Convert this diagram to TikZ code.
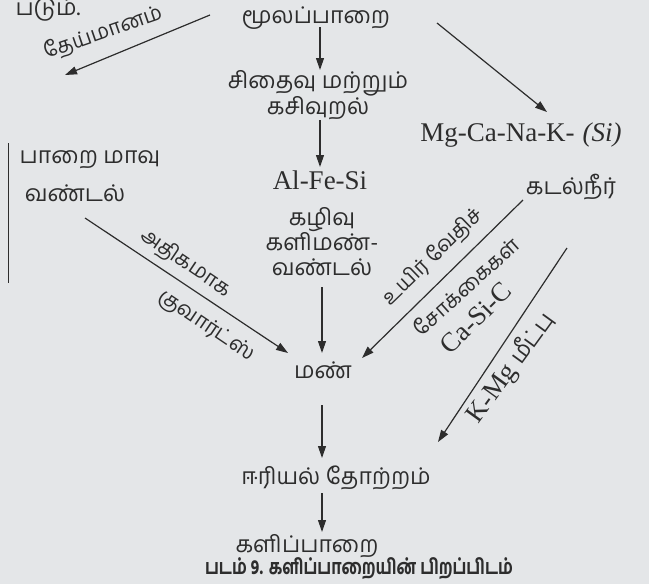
\documentclass[tikz,border=0pt]{standalone}
\usepackage{fontspec}
\setmainfont{Liberation Serif}
\newfontfamily\tamil[Script=Tamil]{Hind Madurai}
\newfontfamily\tamilbold[Script=Tamil]{Hind Madurai Bold}
\usetikzlibrary{arrows.meta}
\definecolor{bg}{RGB}{228,230,232}
\definecolor{ink}{RGB}{45,45,45}
\begin{document}
\begin{tikzpicture}[x=1pt,y=-1pt,
  tam/.style={font=\tamil\fontsize{23}{25}\selectfont, text=ink, inner sep=0pt, align=center},
  tams/.style={font=\tamil\fontsize{21}{24}\selectfont, text=ink, inner sep=0pt},
  capt/.style={font=\tamilbold\fontsize{16}{20}\selectfont, text=ink, inner sep=0pt, yscale=1.3},
  lat/.style={font=\fontsize{27}{30}\selectfont, text=ink, inner sep=0pt},
  arr/.style={draw=ink, line width=1.2pt, -{Triangle[length=12pt,width=8pt]}},
  ln/.style={draw=ink, line width=0.9pt}]
\fill[bg] (0,0) rectangle (649,584);
\useasboundingbox (0,0) rectangle (649,584);
% texts
\node[tam] (padum) at (48,10) {படும்.};
\node[tams, rotate=19] (theym) at (103,33) {தேய்மானம்};
\node[tam] (mula) at (316,18) {மூலப்பாறை};
\node[tam] (sith) at (318,95) {சிதைவு மற்றும்\\கசிவுறல்};
\node[lat] (alfe) at (320,180) {Al-Fe-Si};
\node[tam] (kazhivu) at (322,242) {கழிவு\\களிமண்-\\வண்டல்};
\node[tam] (man) at (323,370) {மண்};
\node[tam] (eeri) at (336,478) {ஈரியல் தோற்றம்};
\node[tam] (kali) at (307,546) {களிப்பாறை};
\node[capt] (cap) at (359,569) {படம் 9. களிப்பாறையின் பிறப்பிடம்};
\node[lat] (mg) at (521,135) {Mg-Ca-Na-K-\hspace{8pt}\textit{(Si)}};
\node[tam] (kadal) at (571,187) {கடல்நீர்};
\node[tam] (paarai) at (90,160) {பாறை மாவு};
\node[tam] (vandal) at (75,193) {வண்டல்};
\node[tams, rotate=-34] (athi) at (186,263) {அதிகமாக};
\node[tams, rotate=-34] (quartz) at (206,326) {குவார்ட்ஸ்};
\node[tams, rotate=44] (uyir) at (433,257) {உயிர் வேதிச்};
\node[tams, rotate=42] (serk) at (466,286) {சோக்கைகள்};
\node[lat, rotate=45] (casi) at (476,318) {Ca-Si-C};
\node[lat, rotate=54] (kmg) at (511,368) {K-Mg {\tamil\fontsize{23}{25}\selectfont மீட்பு}};
% connector ends
\coordinate (a1s) at (320,27);  \coordinate (a1e) at (320,70);
\coordinate (a2s) at (320,120); \coordinate (a2e) at (320,167);
\coordinate (a3s) at (322,287); \coordinate (a3e) at (322,353);
\coordinate (a4s) at (322,405); \coordinate (a4e) at (322,458);
\coordinate (a5s) at (322,493); \coordinate (a5e) at (322,532);
\coordinate (b1s) at (210,15);  \coordinate (b1e) at (65,75);
\coordinate (b2s) at (437,23);  \coordinate (b2e) at (547,112);
\coordinate (b3s) at (85,218);  \coordinate (b3e) at (288,353);
\coordinate (b4s) at (523,200); \coordinate (b4e) at (362,358);
\coordinate (b5s) at (567,248); \coordinate (b5e) at (438,442);
\coordinate (v1) at (8,143);    \coordinate (v2) at (8,283);
% connectors
\draw[arr] (a1s) -- (a1e);
\draw[arr] (a2s) -- (a2e);
\draw[arr] (a3s) -- (a3e);
\draw[arr] (a4s) -- (a4e);
\draw[arr] (a5s) -- (a5e);
\draw[arr] (b1s) -- (b1e);
\draw[arr] (b2s) -- (b2e);
\draw[arr] (b3s) -- (b3e);
\draw[arr] (b4s) -- (b4e);
\draw[arr] (b5s) -- (b5e);
\draw[ln] (v1) -- (v2);
\end{tikzpicture}
\end{document}
